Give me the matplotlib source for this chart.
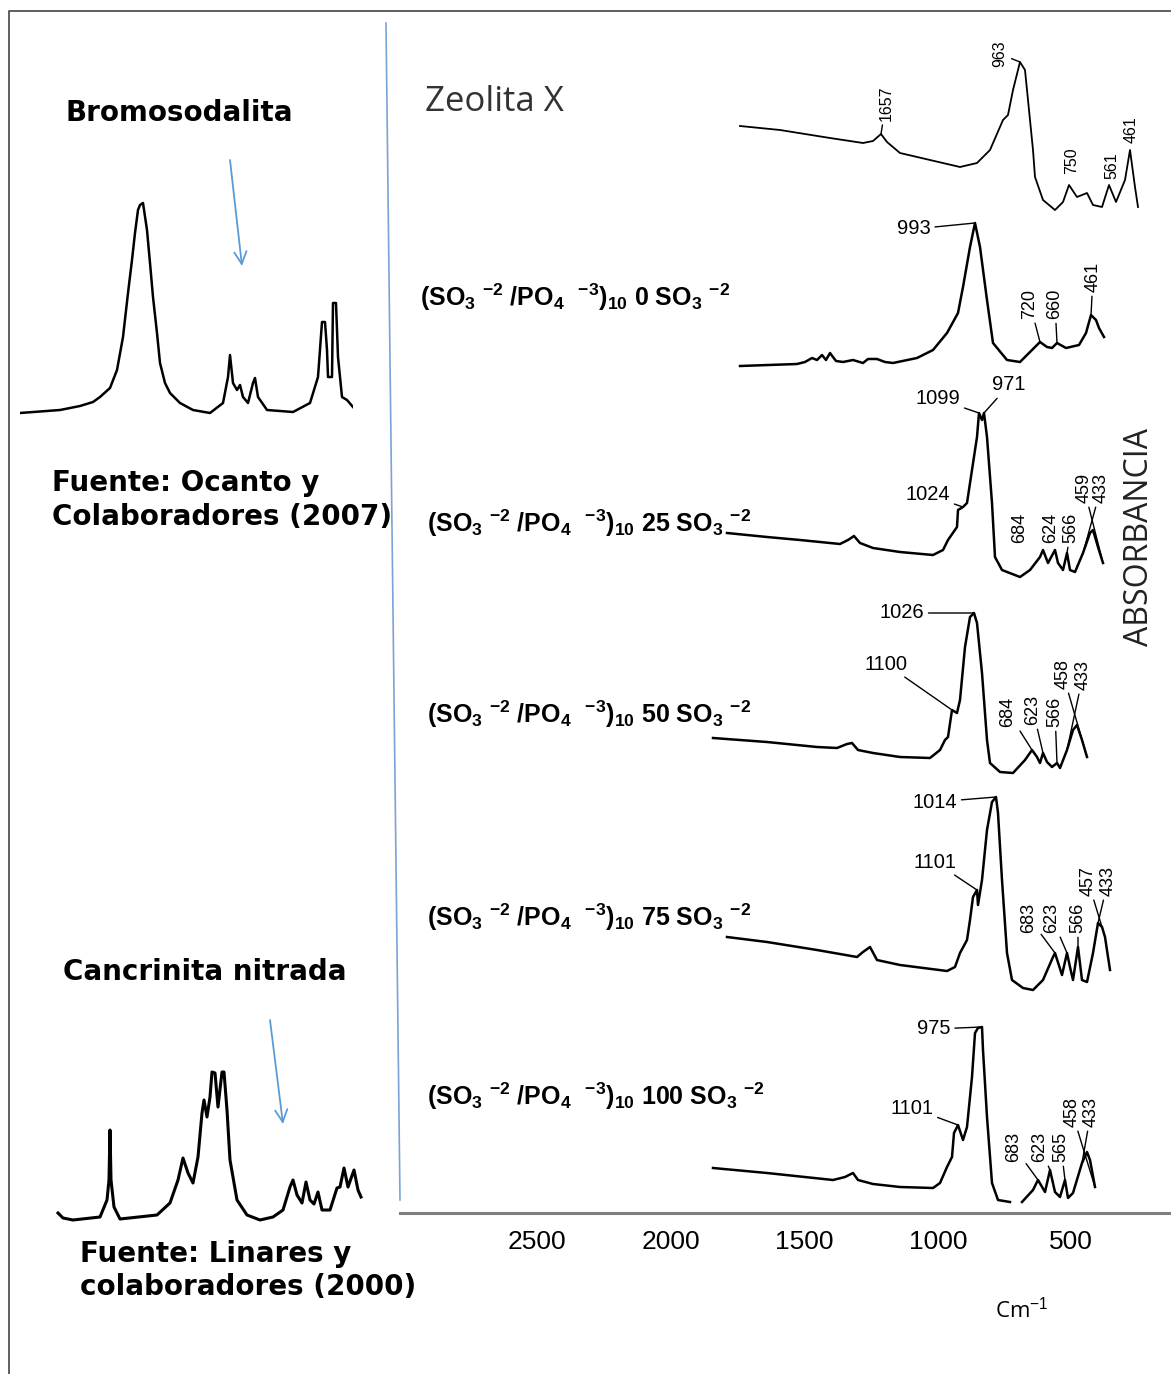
import numpy as np
import matplotlib
matplotlib.use("Agg")
import matplotlib.pyplot as plt

plt.rcParams['mathtext.fontset'] = 'custom'
plt.rcParams['mathtext.rm'] = 'Liberation Sans'
plt.rcParams['mathtext.bf'] = 'Liberation Sans:bold'
plt.rcParams['mathtext.it'] = 'Liberation Sans:italic'

# ---- spectra: wavenumber (cm-1) / absorbance (a.u.) ----
bromo_wn = [1360, 1240, 1180, 1141, 1120, 1090, 1069, 1051, 1036, 1024, 1015, 1006, 1000, 991,
            979, 970, 961, 949, 940, 925, 910, 880, 841, 790,
            751, 736, 730, 721, 709, 700, 691, 676, 661, 655, 646, 619, 541, 490, 466, 454,
            445, 439, 436, 424, 421, 412, 406, 394, 379, 361]
bromo_abs = [0.02, 0.05, 0.09, 0.13, 0.18, 0.27, 0.45, 0.78, 1.22, 1.55, 1.82, 2.05, 2.10, 2.12,
             1.85, 1.52, 1.18, 0.82, 0.52, 0.32, 0.22, 0.12, 0.05, 0.02,
             0.12, 0.38, 0.60, 0.32, 0.25, 0.30, 0.18, 0.12, 0.32, 0.37, 0.18, 0.05, 0.03, 0.12, 0.38, 0.93,
             0.93, 0.65, 0.38, 0.38, 1.12, 1.12, 0.58, 0.18, 0.15, 0.08]

cancri_wn = [1536, 1521, 1491, 1410, 1389, 1383, 1380, 1377, 1368, 1350, 1239, 1200, 1176, 1161,
             1146, 1131, 1116, 1104, 1098, 1089, 1080, 1074, 1065, 1056, 1044, 1038, 1029, 1020,
             999, 969, 930, 891, 861, 840, 831, 819, 804, 792, 780, 768, 756, 744, 720, 699, 690,
             678, 666, 648, 636, 627]
cancri_abs = [0.09, 0.04, 0.02, 0.05, 0.22, 0.42, 0.92, 0.42, 0.15, 0.03, 0.07, 0.19, 0.42, 0.64,
              0.49, 0.39, 0.65, 1.09, 1.22, 1.05, 1.25, 1.50, 1.49, 1.15, 1.50, 1.50, 1.12, 0.62,
              0.22, 0.07, 0.02, 0.05, 0.12, 0.35, 0.42, 0.27, 0.19, 0.40, 0.22, 0.18, 0.30, 0.12, 0.12,
              0.34, 0.35, 0.54, 0.35, 0.52, 0.32, 0.25]

zeo_wn = [2411, 2211, 1961, 1796, 1746, 1706, 1676, 1611, 1461, 1311, 1226, 1161, 1096, 1071,
          1046, 1011, 986, 961, 946, 936, 896, 836, 796, 766, 726, 676, 646, 601, 566, 531, 486,
          461, 436, 421]
zeo_abs = [0.89, 0.85, 0.77, 0.72, 0.74, 0.81, 0.73, 0.62, 0.55, 0.48, 0.52, 0.65, 0.95, 1.00,
           1.25, 1.53, 1.45, 0.95, 0.65, 0.38, 0.15, 0.05, 0.13, 0.30, 0.18, 0.22, 0.10, 0.08, 0.30,
           0.13, 0.35, 0.65, 0.28, 0.08]

s0_wn = [2226, 1941, 1901, 1866, 1841, 1816, 1796, 1776, 1746, 1711, 1661, 1611, 1586, 1541,
         1501, 1461, 1341, 1261, 1191, 1136, 1111, 1076, 1051, 1026, 991, 961, 891, 826, 776,
         726, 691, 666, 641, 596, 531, 496, 471, 446, 431, 406]
s0_abs = [0.04, 0.06, 0.08, 0.12, 0.10, 0.15, 0.10, 0.17, 0.09, 0.08, 0.10, 0.07, 0.11, 0.11,
          0.08, 0.07, 0.12, 0.20, 0.37, 0.57, 0.83, 1.23, 1.47, 1.23, 0.70, 0.27, 0.10, 0.08, 0.18,
          0.28, 0.23, 0.22, 0.27, 0.22, 0.25, 0.37, 0.55, 0.50, 0.42, 0.33]

s25_wn = [2298, 2098, 1933, 1733, 1693, 1663, 1633, 1568, 1433, 1268, 1218, 1193, 1148, 1143,
          1118, 1098, 1073, 1048, 1038, 1023, 1013, 998, 973, 958, 923, 833, 783, 733, 718, 693,
          658, 643, 618, 598, 583, 558, 518, 483, 468, 443, 418]
s25_abs = [0.47, 0.43, 0.40, 0.36, 0.40, 0.44, 0.37, 0.32, 0.28, 0.25, 0.30, 0.40, 0.53, 0.70,
           0.73, 0.77, 1.10, 1.43, 1.67, 1.60, 1.67, 1.43, 0.77, 0.23, 0.10, 0.03, 0.10, 0.23, 0.30,
           0.17, 0.30, 0.17, 0.10, 0.27, 0.10, 0.08, 0.27, 0.47, 0.50, 0.33, 0.17]

s50_wn = [2293, 2023, 1773, 1673, 1623, 1598, 1568, 1493, 1358, 1208, 1158, 1133, 1118, 1098,
          1073, 1058, 1033, 1008, 988, 973, 948, 923, 908, 858, 793, 733, 698, 673, 658, 643,
          623, 598, 573, 558, 523, 493, 473, 448, 423]
s50_abs = [0.42, 0.38, 0.33, 0.32, 0.36, 0.37, 0.30, 0.27, 0.23, 0.22, 0.30, 0.40, 0.43, 0.70,
           0.67, 0.80, 1.33, 1.63, 1.67, 1.57, 1.07, 0.40, 0.17, 0.08, 0.07, 0.20, 0.30, 0.23,
           0.17, 0.27, 0.18, 0.13, 0.17, 0.12, 0.30, 0.50, 0.55, 0.40, 0.23]

s75_wn = [2313, 2113, 1863, 1663, 1633, 1598, 1563, 1448, 1213, 1173, 1148, 1113, 1098, 1083,
          1063, 1058, 1038, 1013, 988, 968, 958, 938, 913, 888, 833, 783, 733, 683, 673, 638,
          613, 598, 583, 558, 538, 513, 483, 458, 438, 423, 398]
s75_abs = [0.58, 0.53, 0.45, 0.38, 0.43, 0.48, 0.35, 0.30, 0.24, 0.28, 0.42, 0.55, 0.75, 0.98,
           1.05, 0.90, 1.15, 1.65, 1.93, 1.98, 1.82, 1.15, 0.42, 0.15, 0.07, 0.05, 0.15, 0.38,
           0.42, 0.20, 0.42, 0.28, 0.15, 0.48, 0.15, 0.13, 0.42, 0.72, 0.68, 0.58, 0.25]

s100_wn = [2308, 2038, 1708, 1648, 1608, 1583, 1508, 1373, 1208, 1173, 1138, 1113, 1103, 1083,
           1058, 1038, 1013, 998, 983, 963, 958, 938, 913, 883, 823, np.nan, 763, 708, 683, 648,
           623, 598, 573, 548, 533, 508, 463, 438, 423, 398]
s100_abs = [0.37, 0.32, 0.25, 0.28, 0.32, 0.25, 0.21, 0.18, 0.17, 0.22, 0.38, 0.48, 0.72, 0.80,
            0.65, 0.78, 1.28, 1.72, 1.77, 1.78, 1.55, 0.88, 0.22, 0.05, 0.03, np.nan, 0.03, 0.15,
            0.25, 0.13, 0.35, 0.13, 0.08, 0.25, 0.07, 0.12, 0.42, 0.53, 0.45, 0.18]

# peak labels: text, wavenumber and absorbance of the labelled point
zeo_peaks = [('1657', 1706, 0.81), ('963', 1011, 1.53), ('750', 766, 0.30), ('561', 566, 0.30), ('461', 461, 0.65)]
s0_peaks = [('993', 1051, 1.47), ('720', 726, 0.28), ('660', 641, 0.27), ('461', 471, 0.55)]
s25_peaks = [('1099', 1038, 1.67), ('971', 1013, 1.67), ('1024', 1118, 0.73), ('684', 718, 0.30),
             ('624', 658, 0.30), ('566', 598, 0.27), ('459', 418, 0.17), ('433', 518, 0.27)]
s50_peaks = [('1026', 988, 1.67), ('1100', 1098, 0.70), ('684', 698, 0.30), ('623', 643, 0.27),
             ('566', 573, 0.17), ('458', 423, 0.23), ('433', 523, 0.30)]
s75_peaks = [('1014', 968, 1.98), ('1101', 1063, 1.05), ('683', 673, 0.42), ('623', 613, 0.42),
             ('566', 558, 0.48), ('457', 438, 0.68), ('433', 458, 0.72)]
s100_peaks = [('975', 963, 1.78), ('1101', 1083, 0.80), ('683', 683, 0.25), ('623', 623, 0.35),
              ('565', 548, 0.25), ('458', 398, 0.18), ('433', 463, 0.42)]

series_names = ['0', '25', '50', '75', '100']
axis_ticks = [2500, 2000, 1500, 1000, 500]

# ---- layout (pixels of the 1171x1374 canvas) ----
W, H = 1171, 1374


def box(x0, y0, x1, y1):
    return [x0 / W, 1 - y1 / H, (x1 - x0) / W, (y1 - y0) / H]


def fx(x):
    return x / W


def fy(y):
    return 1 - y / H


fig = plt.figure(figsize=(W / 100, H / 100), dpi=100)
fig.patch.set_facecolor('white')

over = fig.add_axes([0, 0, 1, 1])
over.set_xlim(0, W)
over.set_ylim(H, 0)
over.axis('off')
over.plot([9, 9, W + 5], [H + 5, 11, 11], color='#444444', lw=1.2)
over.plot([386, 400], [23, 1200], color='#7ba3d6', lw=1.2)
for start, end in [((230, 160), (242, 266)), ((270, 1020), (283, 1124))]:
    over.annotate('', xy=end, xytext=start,
                  arrowprops=dict(arrowstyle='->', color='#5b9bd5', lw=1.3,
                                  mutation_scale=22, shrinkA=0, shrinkB=0))


def spectrum(px_box, xlim, ylim, wn, ab, lw):
    ax = fig.add_axes(box(*px_box))
    ax.plot(wn, ab, color='black', lw=lw, solid_joinstyle='round')
    ax.set_xlim(*xlim)
    ax.set_ylim(*ylim)
    ax.axis('off')
    return ax


def label_peaks(ax, peaks, offsets, size_h=14.5, size_v=13):
    for (txt, wn, ab), (dx, dy, rot, leader) in zip(peaks, offsets):
        props = None
        if leader:
            props = dict(arrowstyle='-', color='black', lw=1.0, shrinkA=1, shrinkB=0)
        ax.annotate(txt, xy=(wn, ab), xytext=(dx, dy), textcoords='offset pixels',
                    ha='center', va='center', rotation=rot,
                    fontsize=size_v if rot else size_h, family='Liberation Sans',
                    arrowprops=props, annotation_clip=False)


# left reference spectra
spectrum((20, 185, 353, 415), (1360, 361), (0, 2.30), bromo_wn, bromo_abs, 1.8)
spectrum((55, 1060, 365, 1222), (1545, 615), (0, 1.62), cancri_wn, cancri_abs, 2.2)

# right spectra
ax_z = spectrum((738, 35, 1145, 215), (2421, 386), (0, 1.80), zeo_wn, zeo_abs, 1.3)
label_peaks(ax_z, zeo_peaks, [(5, 31, 90, True), (-20, 8, 90, True), (3, 24, 90, False),
                              (3, 19, 90, False), (1, 20, 90, False)], size_v=11.5)

ax0 = spectrum((738, 200, 1110, 370), (2236, 376), (0, 1.70), s0_wn, s0_abs, 1.8)
label_peaks(ax0, s0_peaks, [(-61, -6, 0, True), (-10, 38, 90, True), (-2, 39, 90, True), (2, 38, 90, True)])

ax25 = spectrum((715, 375, 1110, 580), (2358, 383), (0, 2.05), s25_wn, s25_abs, 1.8)
label_peaks(ax25, s25_peaks, [(-41, 14, 0, True), (25, 28, 0, True), (-35, 12, 0, True),
                              (-23, 22, 90, False), (-4, 22, 90, False), (4, 25, 90, True),
                              (-19, 75, 90, True), (18, 65, 90, True)])

ax50 = spectrum((710, 590, 1095, 780), (2308, 383), (0, 1.90), s50_wn, s50_abs, 1.8)
label_peaks(ax50, s50_peaks, [(-72, 0, 0, True), (-66, 46, 0, True), (-24, 38, 90, True),
                              (-10, 43, 90, True), (-2, 51, 90, True), (-24, 83, 90, True),
                              (16, 75, 90, True)])

ax75 = spectrum((725, 780, 1115, 995), (2323, 373), (0, 2.15), s75_wn, s75_abs, 1.8)
label_peaks(ax75, s75_peaks, [(-61, -5, 0, True), (-42, 28, 0, True), (-26, 35, 90, True),
                              (-15, 35, 90, True), (0, 29, 90, True), (-14, 46, 90, True),
                              (10, 42, 90, True)])

ax100 = spectrum((710, 1000, 1100, 1205), (2323, 373), (0, 2.05), s100_wn, s100_abs, 1.8)
label_peaks(ax100, s100_peaks, [(-48, -2, 0, True), (-46, 17, 0, True), (-24, 33, 90, True),
                                (-10, 23, 90, True), (-4, 33, 90, True), (-23, 75, 90, True),
                                (9, 51, 90, True)])

# shared wavenumber axis at the bottom
axb = fig.add_axes(box(400, 1150, W, 1213))
axb.set_facecolor('none')
axb.set_xlim(3013, 127)
axb.set_ylim(0, 1)
for side in ['top', 'left', 'right']:
    axb.spines[side].set_visible(False)
axb.spines['bottom'].set_color('#7f7f7f')
axb.spines['bottom'].set_linewidth(2.2)
axb.set_yticks([])
axb.set_xticks(axis_ticks)
axb.set_xticklabels([str(t) for t in axis_ticks], family='Liberation Sans', fontsize=19)
axb.tick_params(axis='x', length=0, pad=12)

# texts
bold = dict(family='DejaVu Sans', weight='bold', fontsize=20, va='center', ha='left')
fig.text(fx(65), fy(113), 'Bromosodalita', **bold)
fig.text(fx(52), fy(483), 'Fuente: Ocanto y', **bold)
fig.text(fx(52), fy(517), 'Colaboradores (2007)', **bold)
fig.text(fx(63), fy(972), 'Cancrinita nitrada', **bold)
fig.text(fx(80), fy(1254), 'Fuente: Linares y', **bold)
fig.text(fx(80), fy(1287), 'colaboradores (2000)', **bold)

fig.text(fx(425), fy(102), 'Zeolita X', family='Open Sans', fontsize=25, color='#333333',
         va='center', ha='left')

row_y = [297, 523, 714, 917, 1096]
row_x = [420, 427, 427, 427, 427]
for name, x, y in zip(series_names, row_x, row_y):
    lab = (r'(SO$_\mathbf{3}$ $^\mathbf{-2}$ /PO$_\mathbf{4}$  $^\mathbf{-3}$)$_\mathbf{10}$ '
           + name + r' SO$_\mathbf{3}$ $^\mathbf{-2}$')
    fig.text(fx(x), fy(y), lab, family='Liberation Sans', weight='bold', fontsize=18,
             va='center', ha='left')

fig.text(fx(1139), fy(537), 'ABSORBANCIA', family='Open Sans', fontsize=23, rotation=90,
         va='center', ha='center', color='#222222')
fig.text(fx(1022), fy(1310), r'Cm$^{-1}$', family='Open Sans', fontsize=16,
         va='center', ha='center')

fig.savefig('out.png', dpi=100, facecolor='white')
